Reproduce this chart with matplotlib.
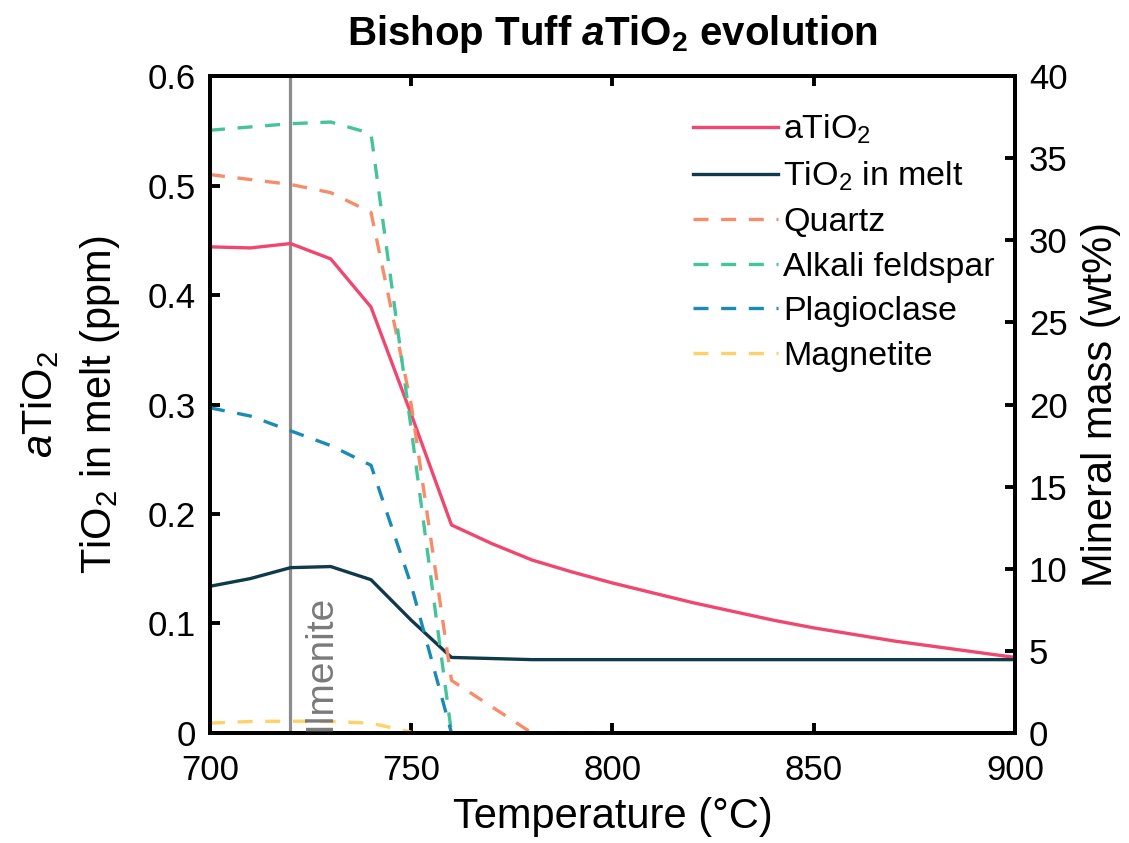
import matplotlib
matplotlib.use("Agg")
import matplotlib.pyplot as plt

# ── Data ──────────────────────────────────────────────────────────────────────
temp_melt = [700, 710, 720, 730, 740, 750, 760, 770, 780, 790, 800, 810, 820,
             830, 840, 850, 860, 870, 880, 890, 900]
a_tio2 = [0.444, 0.443, 0.447, 0.433, 0.389, 0.291, 0.190, 0.173, 0.158, 0.147,
          0.137, 0.128, 0.119, 0.111, 0.103, 0.096, 0.090, 0.084, 0.079, 0.074, 0.069]
tio2_melt = [0.134, 0.141, 0.151, 0.152, 0.140, 0.103, 0.069, 0.068, 0.067, 0.067,
             0.067, 0.067, 0.067, 0.067, 0.067, 0.067, 0.067, 0.067, 0.067, 0.067, 0.067]

temp_quartz = [700, 710, 720, 730, 740, 750, 760, 770, 780, 790, 800]
quartz = [34.0, 33.7, 33.4, 32.9, 31.7, 20.0, 3.2, 1.6, 0.0, 0.0, 0.0]

temp_afs = [700, 710, 720, 730, 740, 750, 760]
alkali_fs = [36.7, 36.9, 37.1, 37.2, 36.5, 18.5, 0.0]

temp_plag = [700, 710, 720, 730, 740, 750, 760]
plagioclase = [19.8, 19.3, 18.4, 17.5, 16.3, 9.0, 0.0]

temp_mag = [700, 710, 720, 730, 740, 750]
magnetite = [0.6, 0.7, 0.72, 0.7, 0.6, 0.05]

ilmenite_t = 720

x_ticks = [700, 750, 800, 850, 900]
left_ticks = [0, 0.1, 0.2, 0.3, 0.4, 0.5, 0.6]
left_tick_labels = ["0", "0.1", "0.2", "0.3", "0.4", "0.5", "0.6"]
right_ticks = [0, 5, 10, 15, 20, 25, 30, 35, 40]

# ── Style ──────────────────────────────────────────────────────────────────────
C_RED = "#ef476f"
C_DARK = "#0f3a4a"
C_QTZ = "#f78c6b"
C_AFS = "#45c39a"
C_PLAG = "#1b8ab5"
C_MAG = "#ffd166"
C_ILM = "#8c8c8c"

plt.rcParams["font.family"] = ["Liberation Sans", "DejaVu Sans"]
plt.rcParams["mathtext.fontset"] = "custom"
plt.rcParams["mathtext.rm"] = "Liberation Sans"
plt.rcParams["mathtext.it"] = "Liberation Sans:italic"
plt.rcParams["mathtext.bf"] = "Liberation Sans:bold"
plt.rcParams["mathtext.bfit"] = "Liberation Sans:italic:bold"

TICK_FS = 25
LABEL_FS = 30
LW = 2.4
DASH = (4.5, 3.8)

fig = plt.figure(figsize=(11.29, 8.43), dpi=100)
fig.patch.set_facecolor("white")
ax = fig.add_axes([0.186, 0.1305, 0.713, 0.7793])
ax2 = ax.twinx()

ax.axvline(ilmenite_t, color=C_ILM, linewidth=2.3, zorder=1)

l_a, = ax.plot(temp_melt, a_tio2, color=C_RED, linewidth=LW, zorder=3)
l_t, = ax.plot(temp_melt, tio2_melt, color=C_DARK, linewidth=LW, zorder=3)

l_q, = ax2.plot(temp_quartz, quartz, color=C_QTZ, linewidth=LW, dashes=DASH)
l_k, = ax2.plot(temp_afs, alkali_fs, color=C_AFS, linewidth=LW, dashes=DASH)
l_p, = ax2.plot(temp_plag, plagioclase, color=C_PLAG, linewidth=LW, dashes=DASH)
l_m, = ax2.plot(temp_mag, magnetite, color=C_MAG, linewidth=LW, dashes=DASH)

# label drawn on the twin axes so it sits above the dashed magnetite line
ax2.text(ilmenite_t + 3.0, 0.1, "Ilmenite", rotation=90, ha="left", va="bottom",
         fontsize=28, color="#7a7a7a", zorder=5)

ax.set_xlim(700, 900)
ax.set_ylim(0, 0.6)
ax2.set_ylim(0, 40)
ax.set_xticks(x_ticks)
ax.set_yticks(left_ticks)
ax.set_yticklabels(left_tick_labels)
ax2.set_yticks(right_ticks)

for a in (ax, ax2):
    for sp in a.spines.values():
        sp.set_linewidth(2.8)
        sp.set_color("black")
ax.tick_params(axis="x", direction="in", length=7, width=2.8, top=True,
               labelsize=TICK_FS, pad=15)
ax.tick_params(axis="y", direction="in", length=7, width=2.8, right=False,
               labelsize=TICK_FS, pad=10)
ax2.tick_params(axis="y", direction="in", length=7, width=2.8,
                labelsize=TICK_FS, pad=10)

ax.set_xlabel("Temperature (°C)", fontsize=LABEL_FS, labelpad=7)
ax2.set_ylabel("Mineral mass (wt%)", fontsize=LABEL_FS, labelpad=10)

# two-line left label
fig.text(40 / 1129, 1 - 404 / 843, r"$\mathit{a}$TiO$_2$", rotation=90,
         ha="center", va="center", fontsize=LABEL_FS)
fig.text(100 / 1129, 1 - 405 / 843, r"TiO$_2$ in melt (ppm)", rotation=90,
         ha="center", va="center", fontsize=LABEL_FS)

fig.text(0.5425, 1 - 45 / 843, r"Bishop Tuff $\mathbfit{a}\mathbf{TiO_2}$ evolution",
         ha="center", va="baseline", fontsize=29, fontweight="bold")

ax2.legend([l_a, l_t, l_q, l_k, l_p, l_m],
           [r"aTiO$_2$", r"TiO$_2$ in melt", "Quartz", "Alkali feldspar",
            "Plagioclase", "Magnetite"],
           loc="upper right", bbox_to_anchor=(1.0, 0.975), frameon=False,
           fontsize=24.5, handlelength=2.5, handletextpad=0.15,
           labelspacing=0.4, borderaxespad=0.2)

fig.savefig("out.png", dpi=100, facecolor="white")
plt.close(fig)
